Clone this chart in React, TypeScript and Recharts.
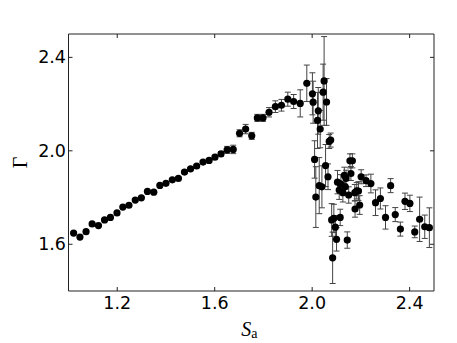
import React from 'react';
import { ScatterChart, Scatter, XAxis, YAxis, ErrorBar } from 'recharts';

const sa: number[] = [
  1.021, 1.047, 1.072, 1.097, 1.123, 1.148, 1.172, 1.199, 1.223, 1.248,
  1.274, 1.299, 1.324, 1.350, 1.375, 1.400, 1.426, 1.451, 1.476, 1.501,
  1.526, 1.552, 1.577, 1.601, 1.626, 1.651, 1.676, 1.702, 1.727, 1.752,
  1.775, 1.798, 1.823, 1.849, 1.874, 1.900, 1.924, 1.951, 1.978,
  2.001, 2.004, 2.010, 2.015, 2.022, 2.025, 2.029, 2.033, 2.040, 2.045,
  2.049, 2.055, 2.059, 2.065, 2.070, 2.076, 2.080, 2.084, 2.089, 2.095,
  2.100, 2.115, 2.144, 2.104, 2.111, 2.118, 2.126, 2.132, 2.139, 2.136,
  2.150, 2.155, 2.165, 2.159, 2.175, 2.176, 2.183, 2.190, 2.195, 2.201,
  2.221, 2.241, 2.260, 2.280, 2.301, 2.322, 2.341, 2.362, 2.381, 2.401,
  2.421, 2.441, 2.462, 2.481,
];

const gamma: number[] = [
  1.648, 1.631, 1.654, 1.687, 1.680, 1.704, 1.715, 1.734, 1.759, 1.767,
  1.789, 1.799, 1.826, 1.823, 1.852, 1.861, 1.876, 1.882, 1.909, 1.923,
  1.935, 1.952, 1.959, 1.973, 1.987, 2.004, 2.006, 2.075, 2.093, 2.064,
  2.141, 2.141, 2.165, 2.189, 2.195, 2.221, 2.211, 2.203, 2.289,
  2.244, 2.208, 1.963, 1.802, 2.130, 2.171, 1.851, 2.093, 1.846, 2.251,
  2.299, 1.937, 2.209, 1.889, 2.040, 2.046, 1.704, 1.542, 1.711, 1.673,
  1.621, 1.715, 1.618, 1.866, 1.832, 1.858, 1.821, 1.895, 1.882, 1.846,
  1.811, 1.957, 1.957, 1.903, 1.821, 1.751, 1.829, 1.828, 1.768, 1.889,
  1.872, 1.860, 1.778, 1.796, 1.715, 1.851, 1.727, 1.665, 1.784, 1.775,
  1.653, 1.707, 1.675, 1.671,
];

const gammaErr: number[] = [
  0.004, 0.004, 0.004, 0.004, 0.004, 0.004, 0.004, 0.004, 0.004, 0.004,
  0.004, 0.004, 0.004, 0.004, 0.004, 0.004, 0.004, 0.005, 0.005, 0.005,
  0.006, 0.006, 0.007, 0.008, 0.01, 0.015, 0.018, 0.015, 0.02, 0.015,
  0.015, 0.015, 0.02, 0.025, 0.025, 0.03, 0.03, 0.058, 0.078,
  0.09, 0.09, 0.08, 0.13, 0.12, 0.1, 0.12, 0.08, 0.09, 0.12,
  0.19, 0.09, 0.1, 0.055, 0.03, 0.03, 0.07, 0.11, 0.06, 0.05,
  0.05, 0.035, 0.035, 0.05, 0.04, 0.04, 0.04, 0.035, 0.035, 0.035,
  0.035, 0.03, 0.03, 0.03, 0.035, 0.035, 0.035, 0.04, 0.04, 0.03,
  0.025, 0.04, 0.055, 0.045, 0.05, 0.03, 0.03, 0.03, 0.035, 0.035,
  0.025, 0.095, 0.05, 0.085,
];

const xTicks: number[] = [1.2, 1.6, 2.0, 2.4];
const yTicks: number[] = [1.6, 2.0, 2.4];

const data = sa.map((s, i) => ({ s, g: gamma[i], err: gammaErr[i] }));

const TICK_FONT = 'DejaVu Sans';
const FRAME = '#222';
const TL = 4;

const BottomTick = (p: any) => (
  <g>
    <line x1={p.x} y1={p.y} x2={p.x} y2={p.y - TL} stroke={FRAME} strokeWidth={1} />
    <text x={p.x} y={p.y + 18} textAnchor="middle" fontFamily={TICK_FONT} fontSize={17.5} fill="#000">
      {Number(p.payload.value).toFixed(1)}
    </text>
  </g>
);

const TopTick = (p: any) => (
  <line x1={p.x} y1={p.y} x2={p.x} y2={p.y + TL} stroke={FRAME} strokeWidth={1} />
);

const LeftTick = (p: any) => (
  <g>
    <line x1={p.x} y1={p.y} x2={p.x + TL} y2={p.y} stroke={FRAME} strokeWidth={1} />
    <text x={p.x - 2.5} y={p.y + 6} textAnchor="end" fontFamily={TICK_FONT} fontSize={17.5} fill="#000">
      {Number(p.payload.value).toFixed(1)}
    </text>
  </g>
);

const RightTick = (p: any) => (
  <line x1={p.x} y1={p.y} x2={p.x - TL} y2={p.y} stroke={FRAME} strokeWidth={1} />
);

const XLabel = (p: any) => {
  const vb = p.viewBox || { x: 60.5, y: 283, width: 365.5 };
  return (
    <text x={vb.x + vb.width / 2 - 2} y={vb.y + 44.5} textAnchor="middle" fontFamily="Liberation Serif" fill="#000">
      <tspan fontStyle="italic" fontSize={20}>S</tspan>
      <tspan fontSize={14} dy={2}>a</tspan>
    </text>
  );
};

const YLabel = (p: any) => {
  const vb = p.viewBox || { x: 0, y: 26, height: 257 };
  const cx = vb.x + 19;
  const cy = vb.y + vb.height / 2;
  return (
    <text x={cx} y={cy} textAnchor="middle" fontFamily="Liberation Serif" fontSize={20} fill="#000" transform={`rotate(-90 ${cx} ${cy})`}>
      Γ
    </text>
  );
};

const Dot = (p: any) => <circle cx={p.cx} cy={p.cy} r={3.6} fill="#000" />;
const NoDot = () => <g />;

export default function App() {
  return (
    <ScatterChart width={449} height={335} margin={{ top: 25, right: 22, bottom: 0, left: 0 }}>
      <XAxis
        xAxisId="b"
        type="number"
        dataKey="s"
        domain={[1.0, 2.5]}
        ticks={xTicks}
        allowDataOverflow
        height={52}
        tickSize={0}
        tickMargin={0}
        tickLine={false}
        axisLine={{ stroke: FRAME, strokeWidth: 1 }}
        tick={<BottomTick />}
        label={<XLabel />}
      />
      <XAxis
        xAxisId="t"
        orientation="top"
        type="number"
        dataKey="s"
        domain={[1.0, 2.5]}
        ticks={xTicks}
        allowDataOverflow
        height={1}
        tickSize={0}
        tickMargin={0}
        tickLine={false}
        axisLine={{ stroke: FRAME, strokeWidth: 1 }}
        tick={<TopTick />}
      />
      <YAxis
        yAxisId="l"
        type="number"
        dataKey="g"
        domain={[1.4, 2.5]}
        ticks={yTicks}
        allowDataOverflow
        width={60.5}
        tickSize={0}
        tickMargin={0}
        tickLine={false}
        axisLine={{ stroke: FRAME, strokeWidth: 1 }}
        tick={<LeftTick />}
        label={<YLabel />}
      />
      <YAxis
        yAxisId="r"
        orientation="right"
        type="number"
        dataKey="g"
        domain={[1.4, 2.5]}
        ticks={yTicks}
        allowDataOverflow
        width={1}
        tickSize={0}
        tickMargin={0}
        tickLine={false}
        axisLine={{ stroke: FRAME, strokeWidth: 1 }}
        tick={<RightTick />}
      />
      <Scatter
        data={data}
        xAxisId="t"
        yAxisId="r"
        isAnimationActive={false}
        shape={<NoDot />}
      />
      <Scatter
        data={data}
        xAxisId="b"
        yAxisId="l"
        isAnimationActive={false}
        shape={<Dot />}
      >
        <ErrorBar dataKey="err" direction="y" width={3} stroke="#444" strokeWidth={1} isAnimationActive={false} />
      </Scatter>
    </ScatterChart>
  );
}
